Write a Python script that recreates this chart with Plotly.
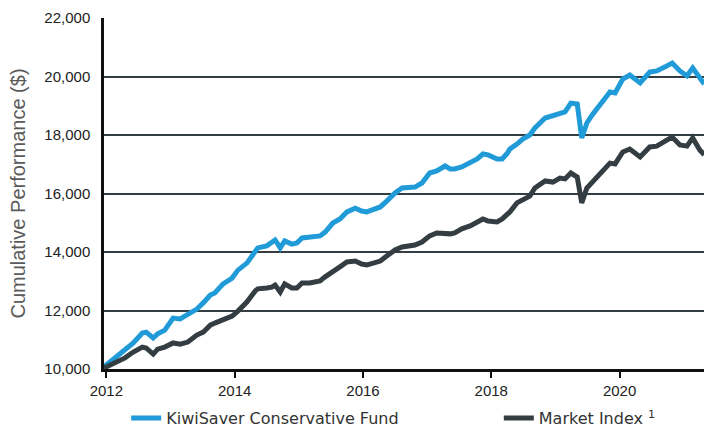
import plotly.graph_objects as go

# Decimal-year positions
years = [2011.96, 2012.10, 2012.29, 2012.42, 2012.56, 2012.62, 2012.73, 2012.80, 2012.91, 2013.04,
         2013.15, 2013.27, 2013.41, 2013.51, 2013.62, 2013.69, 2013.82, 2013.96, 2014.05, 2014.19,
         2014.32, 2014.36, 2014.50, 2014.58, 2014.63, 2014.71, 2014.78, 2014.89, 2014.97, 2015.05,
         2015.17, 2015.33, 2015.41, 2015.53, 2015.64, 2015.75, 2015.88, 2015.98, 2016.06, 2016.16,
         2016.27, 2016.37, 2016.50, 2016.61, 2016.73, 2016.81, 2016.92, 2017.04, 2017.15, 2017.28,
         2017.36, 2017.43, 2017.54, 2017.67, 2017.78, 2017.87, 2017.95, 2018.09, 2018.17, 2018.25,
         2018.29, 2018.40, 2018.49, 2018.60, 2018.68, 2018.84, 2018.96, 2019.07, 2019.15, 2019.24,
         2019.34, 2019.41, 2019.49, 2019.57, 2019.66, 2019.77, 2019.85, 2019.93, 2020.05, 2020.16,
         2020.32, 2020.47, 2020.58, 2020.71, 2020.82, 2020.94, 2021.05, 2021.14, 2021.25, 2021.32]

kiwisaver = [10070, 10310, 10620, 10890, 11230, 11260, 11060, 11200, 11330, 11740,
             11710, 11850, 12050, 12260, 12530, 12600, 12910, 13110, 13380, 13620,
             14000, 14140, 14210, 14340, 14410, 14140, 14380, 14270, 14310, 14480,
             14510, 14550, 14680, 14990, 15130, 15370, 15500, 15400, 15370, 15440,
             15540, 15740, 16020, 16190, 16220, 16220, 16360, 16700, 16770, 16940,
             16840, 16840, 16910, 17040, 17180, 17350, 17320, 17180, 17180, 17380,
             17520, 17690, 17860, 18000, 18240, 18580, 18650, 18750, 18790, 19090,
             19060, 17900, 18410, 18680, 18920, 19230, 19470, 19440, 19910, 20050,
             19780, 20150, 20190, 20330, 20460, 20190, 20020, 20290, 19910, 19740]

market_index = [10030, 10170, 10380, 10580, 10750, 10720, 10510, 10680, 10750, 10890,
                10850, 10920, 11160, 11260, 11500, 11570, 11680, 11810, 11980, 12290,
                12670, 12740, 12770, 12800, 12870, 12630, 12910, 12770, 12770, 12940,
                12940, 13010, 13150, 13350, 13490, 13660, 13690, 13590, 13560, 13620,
                13690, 13860, 14070, 14170, 14210, 14240, 14340, 14550, 14650, 14620,
                14620, 14650, 14790, 14890, 15030, 15130, 15060, 15030, 15130, 15300,
                15370, 15680, 15780, 15910, 16190, 16430, 16390, 16530, 16500, 16700,
                16560, 15680, 16190, 16390, 16560, 16840, 17040, 17010, 17420, 17520,
                17250, 17590, 17620, 17790, 17930, 17660, 17620, 17900, 17490, 17320]

x_ticks = [2012, 2014, 2016, 2018, 2020]
x_tick_labels = ["2012", "2014", "2016", "2018", "2020"]
y_ticks = [10000, 12000, 14000, 16000, 18000, 20000, 22000]

BLUE = "#219bd8"
DARK = "#333d42"

fig = go.Figure()
fig.add_trace(go.Scatter(x=years, y=kiwisaver, mode="lines", name="KiwiSaver Conservative Fund",
                         line=dict(color=BLUE, width=5), legend="legend"))
fig.add_trace(go.Scatter(x=years, y=market_index, mode="lines", name="Market Index <sup>1</sup>",
                         line=dict(color=DARK, width=5), legend="legend2"))

legend_font = dict(family="DejaVu Sans, sans-serif", size=16, color="#333333")

fig.update_layout(
    width=704, height=427,
    margin=dict(l=104, r=0, t=18, b=58, autoexpand=False),
    paper_bgcolor="white", plot_bgcolor="white",
    font=dict(family="Liberation Sans, Arial, sans-serif", size=15, color="#222222"),
    showlegend=True,
    legend=dict(x=0.037, xanchor="left", y=-0.14, yanchor="middle",
                font=legend_font, itemwidth=30, bgcolor="rgba(0,0,0,0)"),
    legend2=dict(x=0.658, xanchor="left", y=-0.14, yanchor="middle",
                 font=legend_font, itemwidth=30, bgcolor="rgba(0,0,0,0)"),
    xaxis=dict(range=[2011.963, 2021.316], tickvals=x_ticks, ticktext=x_tick_labels,
               showgrid=False, zeroline=False, showline=True, linecolor="#111111", linewidth=2.5,
               ticks="outside", ticklen=6, tickwidth=2, tickcolor="#111111",
               tickfont=dict(size=15, color="#222222")),
    yaxis=dict(range=[10000, 22000], tickvals=y_ticks, tickformat=",d",
               showgrid=True, gridcolor=DARK, gridwidth=1.5, zeroline=False,
               showline=True, linecolor="#111111", linewidth=2.5,
               ticks="", ticklabelstandoff=8,
               tickfont=dict(size=15, color="#222222"),
               title=dict(text="Cumulative Performance ($)", standoff=14,
                          font=dict(size=20, color="#5a5a5a"))),
)

fig.write_html("out.html", config={"displayModeBar": False},
               post_script="document.body.style.margin='0';document.body.style.overflow='hidden';")
